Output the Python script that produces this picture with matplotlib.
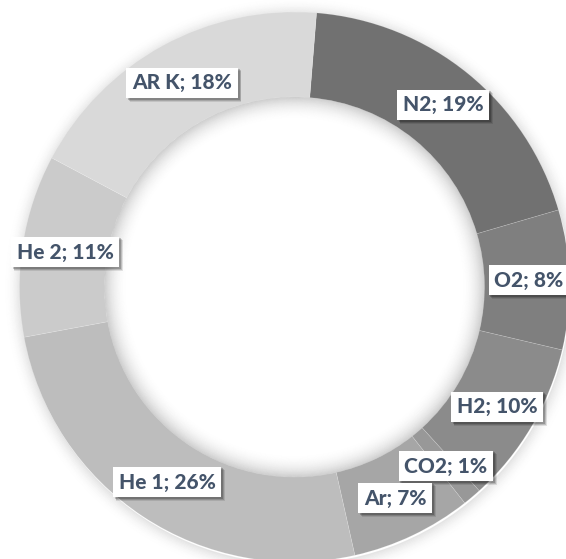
import matplotlib
matplotlib.use("Agg")
import matplotlib.pyplot as plt
from matplotlib.patches import Wedge
import matplotlib.patheffects as pe

# ---- data ----
names = ["N2", "O2", "H2", "CO2", "Ar", "He 1", "He 2", "AR K"]
values = [19.2, 8.2, 9.6, 1.1, 7.1, 25.6, 10.7, 18.5]
pct_labels = ["19%", "8%", "10%", "1%", "7%", "26%", "11%", "18%"]
colors = ["#717171", "#7f7f7f", "#8b8b8b", "#989898", "#a6a6a6",
          "#bdbdbd", "#cbcbcb", "#d9d9d9"]

# label centres in pixel coordinates (x right, y down)
label_pos = [(443, 105), (529, 280), (497, 407), (446, 466),
             (395, 498), (167, 482), (65, 252), (182, 83)]

W, H = 566, 559
CX, CY = 294.5, 287.0
R_OUT, R_IN = 275.0, 190.0

fig = plt.figure(figsize=(W / 100, H / 100), dpi=100)
ax = fig.add_axes([0, 0, 1, 1])
center = (CX, H - CY)

# soft outer shadow
n = 14
for i in range(n):
    r = R_OUT + 1 + i * 1.2
    a = 0.10 * (1 - i / n) ** 2
    ax.add_patch(Wedge((CX + 1, H - CY - 2), r, 0, 360, width=1.25,
                       facecolor=(0, 0, 0, a), edgecolor="none", zorder=0))

ax.pie(values, colors=colors, startangle=85.4, counterclock=False,
       radius=R_OUT, center=center,
       wedgeprops=dict(width=R_OUT - R_IN, edgecolor=(1, 1, 1, 0.18),
                       linewidth=0.5))

# inner shadow inside the hole
n = 24
for i in range(n):
    r = R_IN - i * 1.0
    a = 0.18 * (1 - i / n) ** 2.2
    ax.add_patch(Wedge(center, r, 0, 360, width=1.05,
                       facecolor=(0, 0, 0, a), edgecolor="none", zorder=3))

shadow = [
    pe.SimplePatchShadow(offset=(2.6, -2.6), shadow_rgbFace="black", alpha=0.10),
    pe.SimplePatchShadow(offset=(2.0, -2.0), shadow_rgbFace="black", alpha=0.15),
    pe.SimplePatchShadow(offset=(1.3, -1.3), shadow_rgbFace="black", alpha=0.20),
    pe.Normal(),
]

for nm, pl, (px, py) in zip(names, pct_labels, label_pos):
    t = ax.text(px, H - py, f"{nm}; {pl}", ha="center", va="center",
                fontsize=15, fontweight="black", family=["Lato", "DejaVu Sans"],
                color="#44546A", zorder=10,
                bbox=dict(boxstyle="square,pad=0.28", facecolor="white",
                          edgecolor="none"))
    t.get_bbox_patch().set_path_effects(shadow)

ax.set_xlim(0, W)
ax.set_ylim(0, H)
ax.set_aspect("equal", adjustable="box")
ax.axis("off")
fig.savefig("out.png", dpi=100, facecolor="white")
